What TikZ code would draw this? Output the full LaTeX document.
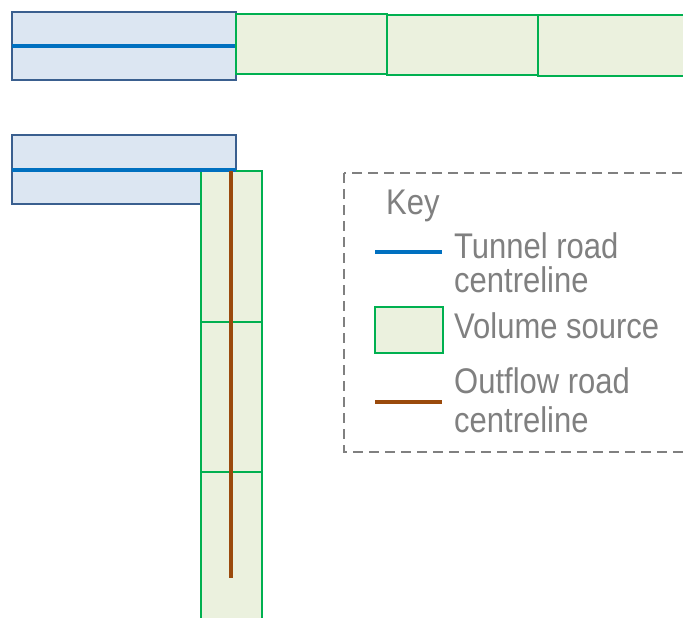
\documentclass[tikz,border=0pt]{standalone}
\usepackage{fontspec}
\setmainfont{Liberation Sans}
\definecolor{tunfill}{HTML}{DCE6F2}
\definecolor{tunedge}{HTML}{3A5F8F}
\definecolor{tunline}{HTML}{0070C0}
\definecolor{volfill}{HTML}{EBF1DE}
\definecolor{voledge}{HTML}{00B050}
\definecolor{outline}{HTML}{9A4A0C}
\definecolor{keygrey}{HTML}{808080}
\newcommand{\ktxt}[1]{\scalebox{1}[1.15]{#1}}
\tikzset{
  tunnelbox/.style={draw=tunedge, fill=tunfill, line width=2.8pt},
  volbox/.style={draw=voledge, fill=volfill, line width=2.8pt},
  tunnelcl/.style={draw=tunline, line width=3.6pt},
  outflowcl/.style={draw=outline, line width=3.6pt},
  keyframe/.style={draw=keygrey, line width=2.4pt, dash pattern=on 10pt off 6pt},
  keytext/.style={text=keygrey, font=\fontsize{31}{37}\selectfont, inner sep=0pt, anchor=base west, align=left},
}
\begin{document}
\begin{tikzpicture}[x=1pt,y=-1pt]
\useasboundingbox (0,0) rectangle (683,618);
% top row
\path[tunnelbox] (12,12) rectangle (236,80);
\draw[tunnelcl] (12,46) -- (236,46);
\path[volbox] (236,14) rectangle (387,74);
\path[volbox] (387,15) rectangle (538,75);
\path[volbox] (538,15) rectangle (690,76);
% lower tunnel
\path[tunnelbox] (12,135) rectangle (236,204);
\path[volbox] (201,171) rectangle (262,322);
\path[volbox] (201,322) rectangle (262,472);
\path[volbox] (201,472) rectangle (262,625);
\draw[tunnelcl] (12,170) -- (236,170);
\draw[outflowcl] (231,171) -- (231,578);
% key
\path[keyframe] (344,173) rectangle (690,452);
\node[keytext] (key) at (386,214) {\ktxt{Key}};
\draw[tunnelcl] (375,252) -- (442,252);
\node[keytext] (t1) at (454,258) {\ktxt{Tunnel road}};
\node[keytext] (t2) at (454,292) {\ktxt{centreline}};
\path[volbox] (375,307) rectangle (443,353);
\node[keytext] (v1) at (454,338) {\ktxt{Volume source}};
\draw[outflowcl] (375,402) -- (442,402);
\node[keytext] (o1) at (454,393) {\ktxt{Outflow road}};
\node[keytext] (o2) at (454,432) {\ktxt{centreline}};
\end{tikzpicture}
\end{document}
